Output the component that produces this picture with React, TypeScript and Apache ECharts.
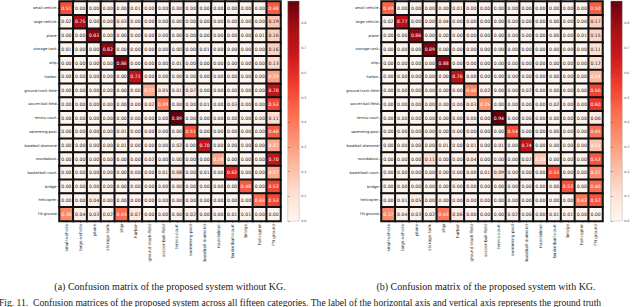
import React, { useEffect, useRef } from "react";
import * as echarts from "echarts";

const categories = [
  "small-vehicle", "large-vehicle", "plane", "storage-tank", "ship", "harbor",
  "ground-track-field", "soccer-ball-field", "tennis-court", "swimming-pool",
  "baseball-diamond", "roundabout", "basketball-court", "bridge", "helicopter", "FN ground",
];

const matrixWithoutKG: number[][] = [
  [0.51, 0, 0, 0, 0, 0.01, 0, 0, 0, 0, 0, 0, 0, 0, 0, 0.48],
  [0.02, 0.75, 0, 0, 0.03, 0, 0, 0, 0, 0, 0, 0, 0, 0, 0, 0.19],
  [0, 0, 0.83, 0, 0, 0, 0, 0, 0, 0, 0, 0, 0, 0, 0.01, 0.16],
  [0.01, 0, 0, 0.82, 0, 0, 0, 0, 0, 0, 0.01, 0, 0, 0, 0, 0.16],
  [0, 0, 0, 0, 0.86, 0, 0, 0, 0.01, 0, 0, 0, 0, 0, 0, 0.13],
  [0, 0, 0, 0, 0, 0.71, 0, 0, 0, 0, 0, 0, 0, 0, 0, 0.29],
  [0, 0, 0, 0, 0, 0, 0.27, 0.05, 0.01, 0.07, 0, 0, 0, 0, 0, 0.70],
  [0, 0, 0, 0, 0, 0, 0.02, 0.39, 0, 0, 0.01, 0, 0.03, 0, 0, 0.53],
  [0, 0, 0, 0, 0, 0, 0, 0, 0.89, 0, 0, 0, 0, 0, 0, 0.11],
  [0, 0, 0, 0, 0.01, 0, 0, 0, 0, 0.51, 0, 0, 0, 0, 0, 0.48],
  [0, 0, 0, 0, 0.01, 0, 0, 0, 0.02, 0, 0.70, 0, 0, 0, 0, 0.27],
  [0, 0, 0, 0, 0, 0, 0.02, 0, 0, 0, 0, 0.28, 0, 0, 0, 0.70],
  [0, 0, 0, 0, 0, 0, 0, 0.01, 0.08, 0, 0.01, 0, 0.62, 0, 0, 0.27],
  [0, 0, 0, 0, 0, 0, 0, 0, 0, 0, 0, 0, 0, 0.48, 0, 0.53],
  [0, 0, 0.04, 0, 0, 0, 0, 0, 0, 0, 0, 0, 0, 0, 0.43, 0.53],
  [0.36, 0.04, 0.03, 0.02, 0.43, 0.07, 0, 0, 0, 0.02, 0, 0, 0.01, 0.01, 0, 0],
];

const matrixWithKG: number[][] = [
  [0.49, 0, 0, 0, 0, 0.01, 0, 0, 0, 0, 0, 0, 0, 0, 0, 0.50],
  [0.02, 0.77, 0, 0, 0.04, 0, 0, 0, 0, 0, 0, 0, 0, 0, 0, 0.17],
  [0, 0, 0.86, 0, 0, 0, 0, 0, 0, 0, 0, 0, 0, 0, 0.01, 0.15],
  [0, 0, 0, 0.89, 0, 0, 0, 0, 0, 0, 0, 0, 0, 0, 0, 0.11],
  [0, 0, 0, 0, 0.88, 0, 0, 0, 0, 0, 0, 0, 0, 0, 0, 0.12],
  [0, 0, 0, 0, 0, 0.76, 0, 0, 0, 0, 0, 0, 0, 0, 0, 0.24],
  [0, 0, 0, 0, 0, 0, 0.40, 0.02, 0, 0, 0.02, 0, 0, 0, 0, 0.56],
  [0, 0, 0, 0, 0, 0, 0.03, 0.35, 0, 0, 0, 0, 0.02, 0, 0, 0.60],
  [0, 0, 0, 0, 0, 0, 0, 0, 0.94, 0, 0, 0, 0, 0, 0, 0.06],
  [0, 0, 0, 0, 0, 0, 0, 0, 0, 0.54, 0, 0, 0, 0, 0, 0.45],
  [0, 0, 0, 0, 0.01, 0, 0.01, 0, 0.01, 0, 0.74, 0, 0, 0, 0, 0.21],
  [0, 0, 0, 0.11, 0, 0, 0.04, 0, 0, 0, 0.02, 0.20, 0, 0, 0, 0.52],
  [0, 0, 0, 0, 0, 0, 0, 0.01, 0.09, 0, 0, 0, 0.53, 0, 0, 0.37],
  [0, 0, 0, 0, 0, 0, 0, 0, 0, 0, 0, 0, 0, 0.53, 0, 0.46],
  [0, 0.01, 0.05, 0, 0, 0, 0, 0, 0, 0, 0, 0, 0, 0, 0.43, 0.52],
  [0.37, 0.04, 0.03, 0.02, 0.43, 0.06, 0, 0, 0, 0.02, 0, 0, 0.01, 0.01, 0, 0],
];

const colorbarTicks = [0, 0.1, 0.2, 0.3, 0.4, 0.5, 0.6, 0.7, 0.8];

const captionA = "(a) Confusion matrix of the proposed system without KG.";
const captionB = "(b) Confusion matrix of the proposed system with KG.";
const figCaption =
  "Fig. 11.  Confusion matrices of the proposed system across all fifteen categories. The label of the horizontal axis and vertical axis represents the ground truth";

const reds = ["#fff5f0", "#fee0d2", "#fcbba1", "#fc9272", "#fb6a4a", "#ef3b2c", "#cb181d", "#a50f15", "#67000d"];

const GRID_TOP = 1.4;
const GRID_H = 219.6;
const GRID_W = 221;
const LEFT_A = 59.5;
const LEFT_B = 381.5;
const CB_A = 287.7;
const CB_B = 610.7;
const CB_W = 11.6;
const CB_MAX = 0.89;

function toData(m: number[][]) {
  const out: any[] = [];
  m.forEach((row, r) =>
    row.forEach((v, c) => {
      out.push({
        value: [c, r, v],
        label: { color: v >= 0.2 ? "#ffffff" : "#222222" },
      });
    })
  );
  return out;
}

export default function App() {
  const ref = useRef<HTMLDivElement>(null);
  useEffect(() => {
    document.body.style.margin = "0";
    const chart = echarts.init(ref.current!, undefined, { renderer: "svg" });
    const font = "DejaVu Sans";
    const xAxisFor = (gi: number) => ({
      type: "category",
      gridIndex: gi,
      data: categories,
      axisLine: { show: false },
      axisTick: { show: true, length: 2, lineStyle: { color: "#333", width: 0.5 }, alignWithLabel: true },
      axisLabel: { rotate: 90, fontSize: 4.2, fontFamily: font, color: "#222", margin: 3, interval: 0 },
      splitLine: { show: false },
    });
    const yAxisFor = (gi: number) => ({
      type: "category",
      gridIndex: gi,
      data: categories,
      inverse: true,
      axisLine: { show: false },
      axisTick: { show: true, length: 2, lineStyle: { color: "#333", width: 0.5 }, alignWithLabel: true },
      axisLabel: { fontSize: 3.6, fontFamily: font, color: "#222", margin: 3, interval: 0 },
      splitLine: { show: false },
    });
    const cbY = (gi: number) => ({
      type: "value",
      gridIndex: gi,
      min: 0,
      max: CB_MAX,
      interval: 0.1,
      position: "right",
      axisLine: { show: false },
      axisTick: { show: true, length: 2, lineStyle: { color: "#555", width: 0.5 } },
      axisLabel: {
        fontSize: 3.2,
        fontFamily: font,
        color: "#444",
        margin: 2,
        showMaxLabel: false,
        formatter: (v: number) => (colorbarTicks.some((t) => Math.abs(t - v) < 1e-6) ? v.toFixed(1) : ""),
      },
      splitLine: { show: false },
    });
    const cbX = (gi: number) => ({ type: "value", gridIndex: gi, show: false, min: 0, max: 1 });
    const heat = (xi: number, m: number[][]) => ({
      type: "heatmap",
      xAxisIndex: xi,
      yAxisIndex: xi,
      data: toData(m),
      label: {
        show: true,
        fontSize: 4.6,
        fontFamily: font,
        formatter: (p: any) => p.value[2].toFixed(2),
      },
      itemStyle: { borderColor: "#111", borderWidth: 2 },
      emphasis: { disabled: true },
    });
    const gradient = {
      type: "linear",
      x: 0, y: 1, x2: 0, y2: 0,
      colorStops: reds.map((c, i) => ({ offset: i / (reds.length - 1), color: c })),
    };
    chart.setOption({
      animation: false,
      backgroundColor: "#ffffff",
      grid: [
        { left: LEFT_A, top: GRID_TOP, width: GRID_W, height: GRID_H },
        { left: LEFT_B, top: GRID_TOP, width: GRID_W, height: GRID_H },
        { left: CB_A, top: 1, width: CB_W, height: 220 },
        { left: CB_B, top: 1, width: CB_W, height: 220 },
      ],
      xAxis: [xAxisFor(0), xAxisFor(1), cbX(2), cbX(3)],
      yAxis: [yAxisFor(0), yAxisFor(1), cbY(2), cbY(3)],
      visualMap: [
        { type: "continuous", show: false, seriesIndex: 0, min: 0, max: CB_MAX, inRange: { color: reds }, outOfRange: { color: "#67000d" } },
        { type: "continuous", show: false, seriesIndex: 1, min: 0, max: 0.94, inRange: { color: reds }, outOfRange: { color: "#67000d" } },
      ],
      series: [heat(0, matrixWithoutKG), heat(1, matrixWithKG)],
      graphic: [
        { type: "rect", shape: { x: CB_A, y: 1, width: CB_W, height: 220 }, style: { fill: gradient, stroke: "#aaa", lineWidth: 0.4 } },
        { type: "rect", shape: { x: CB_B, y: 1, width: CB_W, height: 220 }, style: { fill: gradient, stroke: "#aaa", lineWidth: 0.4 } },
        { type: "text", x: 170, y: 286, style: { text: captionA, fontFamily: "Liberation Serif", fontSize: 10, fill: "#222", align: "center", verticalAlign: "middle" } },
        { type: "text", x: 486, y: 286, style: { text: captionB, fontFamily: "Liberation Serif", fontSize: 10, fill: "#222", align: "center", verticalAlign: "middle" } },
        { type: "text", x: -1, y: 302, style: { text: figCaption, fontFamily: "Liberation Serif", fontSize: 9.6, fill: "#222", align: "left", verticalAlign: "middle" } },
      ],
    });
    return () => chart.dispose();
  }, []);
  return <div ref={ref} style={{ width: 640, height: 307 }} />;
}
